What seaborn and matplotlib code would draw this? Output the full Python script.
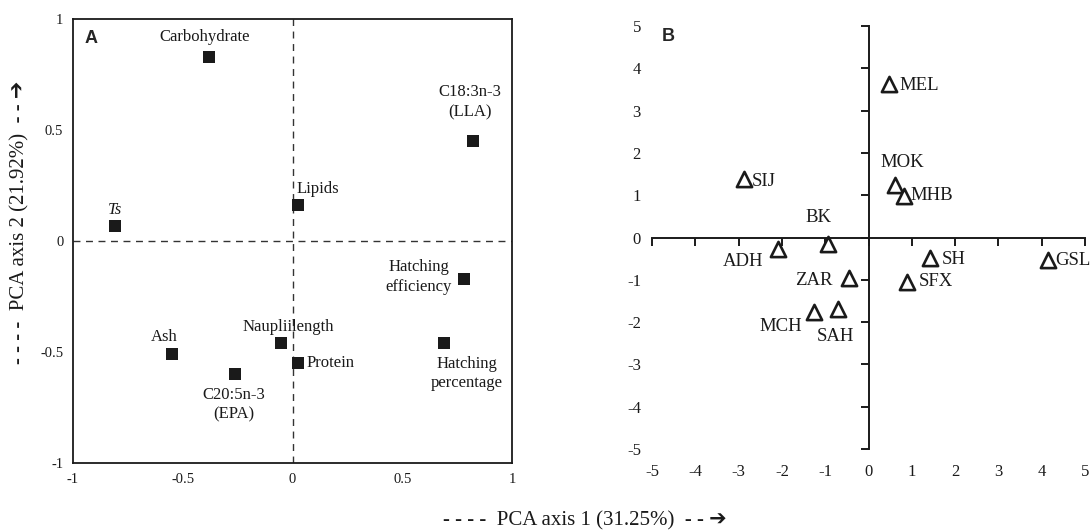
import pandas as pd
import matplotlib
matplotlib.use("Agg")
import matplotlib.pyplot as plt
import seaborn as sns

# ---- data: panel A (variable loadings) ----
var_names = ["Carbohydrate", "C18:3n-3\n(LLA)", "Lipids", "Ts", "Hatching\nefficiency",
             "Ash", "Naupliilength", "Protein", "C20:5n-3\n(EPA)", "Hatching\npercentage"]
var_pc1 = [-0.38, 0.82, 0.027, -0.81, 0.78, -0.55, -0.054, 0.023, -0.26, 0.69]
var_pc2 = [0.83, 0.45, 0.16, 0.068, -0.17, -0.51, -0.46, -0.55, -0.60, -0.46]

# ---- data: panel B (population scores) ----
pop_names = ["MEL", "SIJ", "MOK", "MHB", "ADH", "BK", "SH", "GSL", "ZAR", "SFX", "MCH", "SAH"]
pop_pc1 = [0.48, -2.88, 0.61, 0.83, -2.10, -0.94, 1.43, 4.15, -0.44, 0.89, -1.26, -0.70]
pop_pc2 = [3.64, 1.38, 1.25, 0.98, -0.27, -0.16, -0.49, -0.54, -0.96, -1.05, -1.75, -1.68]

ticks_a = [-1, -0.5, 0, 0.5, 1]
tick_labels_a = ["-1", "-0.5", "0", "0.5", "1"]
ticks_b = [-5, -4, -3, -2, -1, 0, 1, 2, 3, 4, 5]
tick_labels_b = ["-5", "-4", "-3", "-2", "-1", "0", "1", "2", "3", "4", "5"]

# label placement (offset in points, ha)
lab_a = {
    "Carbohydrate": (-3, 14, "center"),
    "C18:3n-3\n(LLA)": (-2, 28, "center"),
    "Lipids": (-1.5, 12, "left"),
    "Ts": (0, 11.5, "center"),
    "Hatching\nefficiency": (-8.6, 1.4, "right"),
    "Ash": (-5.8, 12.2, "center"),
    "Naupliilength": (5.8, 11.5, "center"),
    "Protein": (6.5, 0, "left"),
    "C20:5n-3\n(EPA)": (-1, -22, "center"),
    "Hatching\npercentage": (16.5, -22, "center"),
}
lab_b = {
    "MEL": (7, -1.5, "left"), "SIJ": (6, -1.5, "left"), "MOK": (5, 16, "center"),
    "MHB": (4.5, 0.5, "left"), "ADH": (-10, -9, "right"), "BK": (-6.5, 19.5, "center"),
    "SH": (8.5, -1, "left"), "GSL": (5, 0, "left"), "ZAR": (-12, -2, "right"),
    "SFX": (8.5, 0.5, "left"), "MCH": (-8.5, -11, "right"), "SAH": (-2, -20, "center"),
}

sns.set_style("white")
plt.rcParams["font.family"] = ["Liberation Serif", "DejaVu Sans"]

df_a = pd.DataFrame({"name": var_names, "pc1": var_pc1, "pc2": var_pc2})
df_b = pd.DataFrame({"name": pop_names, "pc1": pop_pc1, "pc2": pop_pc2})

fig = plt.figure(figsize=(10.9, 5.31), dpi=100)
ax_a = fig.add_axes([0.0670, 0.1281, 0.4028, 0.8362])
ax_b = fig.add_axes([0.5982, 0.1544, 0.3972, 0.7966])

# ---------------- Panel A ----------------
ax_a.axhline(0, color="#333333", lw=1, ls=(0, (5, 4)), zorder=1)
ax_a.axvline(0, color="#333333", lw=1, ls=(0, (5, 4)), zorder=1)
sns.scatterplot(data=df_a, x="pc1", y="pc2", marker="s", s=75, color="#1a1a1a",
                edgecolor="none", ax=ax_a, zorder=3, legend=False)
for _, r in df_a.iterrows():
    dx, dy, ha = lab_a[r["name"]]
    ax_a.annotate(r["name"], (r["pc1"], r["pc2"]), xytext=(dx, dy), textcoords="offset points",
                  ha=ha, va="center", fontsize=12, linespacing=1.3, multialignment="center",
                  style="italic" if r["name"] == "Ts" else "normal", color="#1a1a1a")
ax_a.set_xlim(-1, 1)
ax_a.set_ylim(-1, 1)
ax_a.set_xticks(ticks_a)
ax_a.set_xticklabels(tick_labels_a)
ax_a.set_yticks(ticks_a)
ax_a.set_yticklabels(tick_labels_a)
ax_a.tick_params(length=0, labelsize=10.5, colors="#1a1a1a")
ax_a.tick_params(axis="x", pad=7)
ax_a.tick_params(axis="y", pad=7)
for sp in ax_a.spines.values():
    sp.set_color("#1a1a1a")
    sp.set_linewidth(1.3)
ax_a.set_xlabel("")
ax_a.set_ylabel("")
ax_a.text(0.027, 0.975, "A", transform=ax_a.transAxes, ha="left", va="top",
          fontsize=13, fontweight="bold", family="Liberation Sans")

# ---------------- Panel B ----------------
sns.scatterplot(data=df_b, x="pc1", y="pc2", marker="^", s=120, color="white",
                edgecolor="#1a1a1a", linewidth=1.9, ax=ax_b, zorder=3, legend=False, clip_on=False)
for _, r in df_b.iterrows():
    dx, dy, ha = lab_b[r["name"]]
    ax_b.annotate(r["name"], (r["pc1"], r["pc2"]), xytext=(dx, dy), textcoords="offset points",
                  ha=ha, va="center", fontsize=13.5, color="#1a1a1a", annotation_clip=False)
ax_b.set_xlim(-5, 5)
ax_b.set_ylim(-5, 5)
ax_b.set_xticks(ticks_b)
ax_b.set_xticklabels(tick_labels_b)
ax_b.set_yticks(ticks_b)
ax_b.set_yticklabels(tick_labels_b)
ax_b.spines["left"].set_visible(False)
ax_b.spines["bottom"].set_visible(False)
ax_b.spines["right"].set_position(("data", 0))
ax_b.spines["top"].set_position(("data", 0))
for s in ("right", "top"):
    ax_b.spines[s].set_color("#1a1a1a")
    ax_b.spines[s].set_linewidth(1.4)
ax_b.tick_params(axis="y", left=False, right=True, labelleft=True, labelright=False,
                 direction="in", length=6, width=1.4, pad=8, labelsize=12, colors="#1a1a1a")
ax_b.tick_params(axis="x", bottom=False, top=True, labelbottom=True, labeltop=False,
                 direction="in", length=6, width=1.4, pad=11, labelsize=12, colors="#1a1a1a")
ax_b.set_xlabel("")
ax_b.set_ylabel("")
ax_b.text(0.023, 0.995, "B", transform=ax_b.transAxes, ha="left", va="top",
          fontsize=13, fontweight="bold", family="Liberation Sans")

# ---------------- axis titles ----------------
fig.text(585 / 1090, 1 - 521 / 531, "- - - -  PCA axis 1 (31.25%)  - - ➔", ha="center", va="center",
         fontsize=15, color="#1a1a1a")
fig.text(20 / 1090, 1 - 222 / 531, "- - - -  PCA axis 2 (21.92%)  - - ➔", ha="center", va="center",
         rotation=90, fontsize=15, color="#1a1a1a")

fig.savefig("out.png", dpi=100)
